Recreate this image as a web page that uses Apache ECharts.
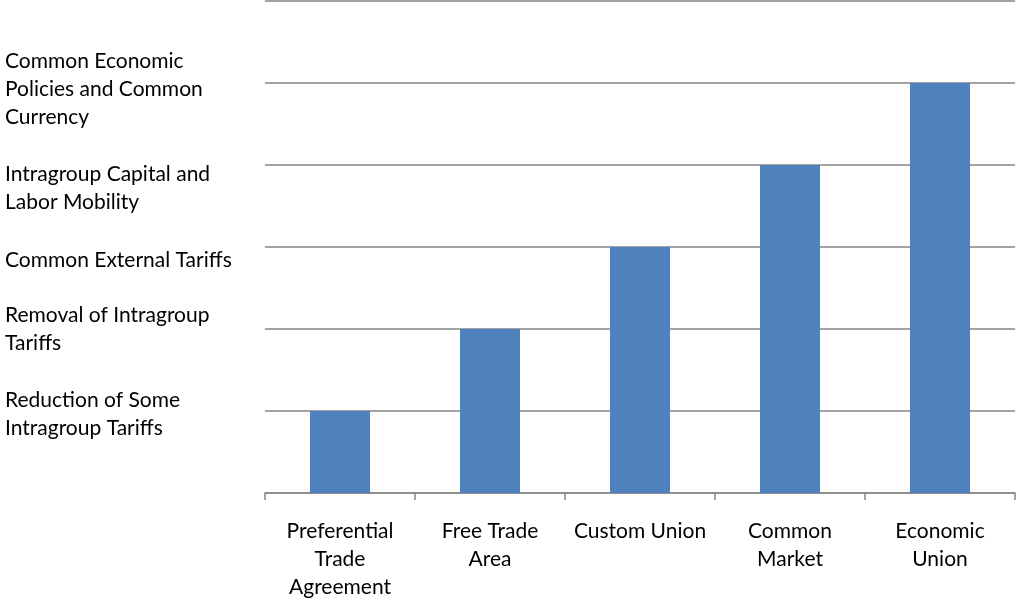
<!DOCTYPE html>
<html>
<head>
<meta charset="utf-8">
<script src="https://cdn.jsdelivr.net/npm/echarts@6/dist/echarts.min.js"></script>
<style>
  html, body { margin: 0; padding: 0; background: #fff; }
  #chart { width: 1017px; height: 598px; }
</style>
</head>
<body>
<div id="chart"></div>
<script>
// Stages of economic integration
const categories = [
  'Preferential\nTrade\nAgreement',
  'Free Trade\nArea',
  'Custom Union',
  'Common\nMarket',
  'Economic\nUnion'
];
const levels = [1, 2, 3, 4, 5];
const levelLabels = [
  '',
  'Reduction of Some\nIntragroup Tariffs',
  'Removal of Intragroup\nTariffs',
  'Common External Tariffs',
  'Intragroup Capital and\nLabor Mobility',
  'Common Economic\nPolicies and Common\nCurrency',
  ''
];

const FONT = 'Lato';
// downward nudge (px) for each level label, as laid out in the text column
const labelNudge = { 1: 3, 2: 0, 3: 13, 4: 23, 5: 6 };

const rich = {};
Object.keys(labelNudge).forEach(function (k) {
  const d = labelNudge[k];
  if (d > 0) rich['gap' + k] = { fontSize: 1, lineHeight: 2 * d };
});

const chart = echarts.init(document.getElementById('chart'));
chart.setOption({
  animation: false,
  backgroundColor: '#ffffff',
  grid: {
    left: 265, right: 2, top: 1, bottom: 105,
    containLabel: false,
    outerBoundsMode: 'none'
  },
  xAxis: {
    type: 'category',
    data: categories,
    boundaryGap: true,
    axisLine: { show: true, lineStyle: { color: '#868686', width: 1.5 } },
    axisTick: { show: true, length: 7, lineStyle: { color: '#868686', width: 1.5 } },
    axisLabel: {
      interval: 0,
      margin: 24,
      color: '#000',
      fontFamily: FONT,
      fontSize: 21,
      lineHeight: 28
    }
  },
  yAxis: {
    type: 'value',
    min: 0,
    max: 6,
    interval: 1,
    axisLine: { show: false },
    axisTick: { show: false },
    splitLine: { show: true, lineStyle: { color: '#868686', width: 1.5 } },
    axisLabel: {
      align: 'left',
      margin: 260,
      color: '#000',
      fontFamily: FONT,
      fontSize: 21,
      lineHeight: 28,
      rich: rich,
      formatter: function (v) {
        const i = Math.round(v);
        const text = levelLabels[i] || '';
        if (!text) return '';
        return rich['gap' + i] ? '{gap' + i + '| }\n' + text : text;
      }
    }
  },
  series: [{
    type: 'bar',
    data: levels,
    barWidth: 60,
    itemStyle: { color: '#4f81bd' }
  }]
});
</script>
</body>
</html>
